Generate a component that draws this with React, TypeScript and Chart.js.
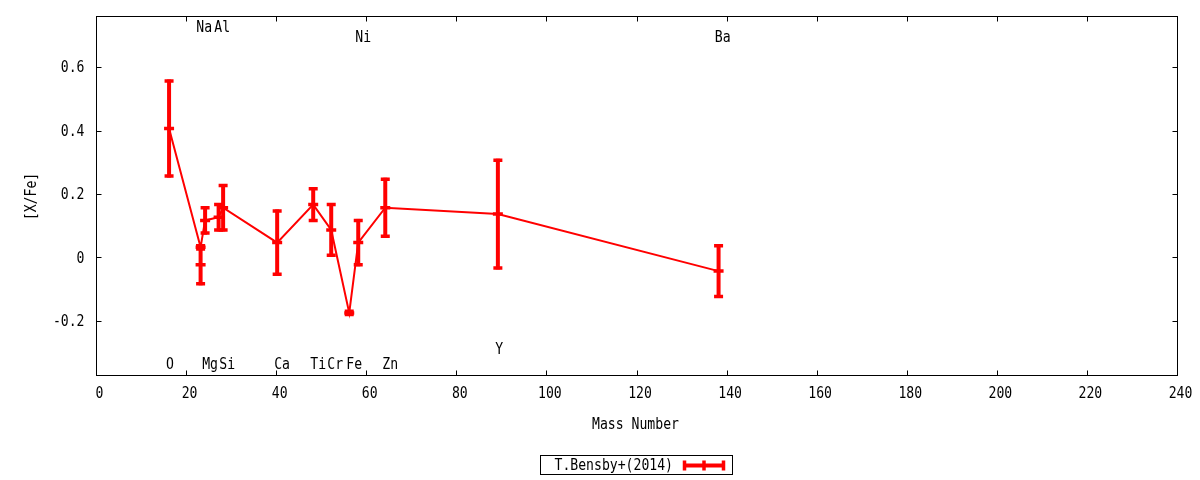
import React, { useEffect, useRef } from 'react';
import { Chart, registerables } from 'chart.js';

Chart.register(...registerables);

// ---- data ----
const massNumbers = [16, 23, 24, 27, 28, 40, 48, 52, 56, 58, 64, 89, 138];
const xFeValues = [0.41, 0.035, 0.12, 0.13, 0.16, 0.05, 0.17, 0.09, -0.172, 0.05, 0.16, 0.14, -0.04];
const xFeErrors = [0.15, 0.005, 0.04, 0.04, 0.07, 0.1, 0.05, 0.08, 0.005, 0.07, 0.09, 0.17, 0.08];

// second Na measurement (drawn as an error bar only, not joined by the line)
const naExtraMass = [23];
const naExtraValue = [-0.02];
const naExtraError = [0.06];

const elementLabels = ['O', 'Na', 'Al', 'Mg', 'Si', 'Ca', 'Ti', 'Cr', 'Fe', 'Zn', 'Ni', 'Y', 'Ba'];
const elementLabelX = [16.2, 23.8, 27.8, 25.1, 28.9, 41.1, 49.1, 52.9, 57.1, 65.1, 59.1, 89.3, 138.9];
const elementLabelY = [-0.335, 0.729, 0.729, -0.335, -0.335, -0.335, -0.335, -0.335, -0.335, -0.335, 0.697, -0.289, 0.697];

const xTicks = [0, 20, 40, 60, 80, 100, 120, 140, 160, 180, 200, 220, 240];
const yTicks = [-0.2, 0, 0.2, 0.4, 0.6];

const seriesLabel = 'T.Bensby+(2014)';
const xTitle = 'Mass Number';
const yTitle = '[X/Fe]';

const RED = '#ff0000';
const FONT = '16px "DejaVu Sans Mono"';
const SX = 0.82;

function drawText(
  ctx: CanvasRenderingContext2D,
  text: string,
  x: number,
  y: number,
  align: CanvasTextAlign,
  rotate = false
) {
  ctx.save();
  ctx.translate(x, y);
  if (rotate) ctx.rotate(-Math.PI / 2);
  ctx.scale(SX, 1);
  ctx.font = FONT;
  ctx.fillStyle = '#000';
  ctx.textAlign = align;
  ctx.textBaseline = 'middle';
  ctx.fillText(text, 0, 0);
  ctx.restore();
}

function fmt(v: number) {
  const r = Math.round(v * 10) / 10;
  return r === 0 ? '0' : String(r);
}

const errorsByDataset = [xFeErrors, naExtraError];

const decorPlugin = {
  id: 'decor',
  afterDatasetsDraw(chart: any) {
    const ctx: CanvasRenderingContext2D = chart.ctx;
    const ys = chart.scales.y;
    ctx.save();
    ctx.beginPath();
    ctx.rect(chart.chartArea.left, chart.chartArea.top, chart.chartArea.width, chart.chartArea.height);
    ctx.clip();
    ctx.strokeStyle = RED;
    chart.data.datasets.forEach((ds: any, di: number) => {
      const meta = chart.getDatasetMeta(di);
      const errs = errorsByDataset[di];
      meta.data.forEach((el: any, i: number) => {
        const v = ds.data[i].y;
        const e = errs[i];
        const px = el.x;
        const pTop = ys.getPixelForValue(v + e);
        const pBot = ys.getPixelForValue(v - e);
        const pMid = ys.getPixelForValue(v);
        ctx.lineCap = 'butt';
        ctx.lineWidth = 4;
        ctx.beginPath();
        ctx.moveTo(px, pTop - 1.5);
        ctx.lineTo(px, pBot + 1.5);
        ctx.stroke();
        ctx.lineWidth = 3.5;
        ctx.beginPath();
        ctx.moveTo(px - 4.5, pTop);
        ctx.lineTo(px + 4.5, pTop);
        ctx.moveTo(px - 4.5, pBot);
        ctx.lineTo(px + 4.5, pBot);
        ctx.moveTo(px - 5, pMid);
        ctx.lineTo(px + 5, pMid);
        ctx.stroke();
      });
    });
    ctx.restore();
  },
  afterDraw(chart: any) {
    const ctx: CanvasRenderingContext2D = chart.ctx;
    const { left, right, top, bottom } = chart.chartArea;
    const xs = chart.scales.x;
    const ys = chart.scales.y;
    ctx.save();
    // frame
    ctx.strokeStyle = '#000';
    ctx.lineWidth = 1;
    const L = Math.round(left) - 0.5;
    const R = Math.round(right) - 0.5;
    const T = Math.round(top) - 0.5;
    const B = Math.round(bottom) - 0.5;
    ctx.strokeRect(L, T, R - L, B - T);
    // inward ticks on all sides
    const tl = 5;
    ctx.beginPath();
    xTicks.forEach((v) => {
      const px = Math.round(xs.getPixelForValue(v)) - 0.5;
      ctx.moveTo(px, B);
      ctx.lineTo(px, B - tl);
      ctx.moveTo(px, T);
      ctx.lineTo(px, T + tl);
    });
    yTicks.forEach((v) => {
      const py = Math.round(ys.getPixelForValue(v)) - 0.5;
      ctx.moveTo(L, py);
      ctx.lineTo(L + tl, py);
      ctx.moveTo(R, py);
      ctx.lineTo(R - tl, py);
    });
    ctx.stroke();
    // tick labels
    xTicks.forEach((v) => {
      drawText(ctx, String(v), xs.getPixelForValue(v) + 2.5, 394, 'center');
    });
    yTicks.forEach((v) => {
      drawText(ctx, fmt(v), left - 12.5, ys.getPixelForValue(v), 'right');
    });
    // axis titles
    drawText(ctx, xTitle, (left + right) / 2 - 2, 424.5, 'center');
    drawText(ctx, yTitle, 31.5, (top + bottom) / 2, 'center', true);
    // element labels
    elementLabels.forEach((t, i) => {
      drawText(ctx, t, xs.getPixelForValue(elementLabelX[i]), ys.getPixelForValue(elementLabelY[i]), 'center');
    });
    // legend
    ctx.strokeStyle = '#000';
    ctx.lineWidth = 1;
    ctx.strokeRect(540.5, 455.5, 192, 19);
    drawText(ctx, seriesLabel, 673, 465.5, 'right');
    ctx.strokeStyle = RED;
    ctx.lineWidth = 4;
    ctx.beginPath();
    ctx.moveTo(683, 465.5);
    ctx.lineTo(725, 465.5);
    ctx.stroke();
    ctx.lineWidth = 3.5;
    ctx.beginPath();
    [684.5, 704, 723.5].forEach((x) => {
      ctx.moveTo(x, 460.5);
      ctx.lineTo(x, 470.5);
    });
    ctx.stroke();
    ctx.restore();
  },
};

export default function App() {
  const canvasRef = useRef<HTMLCanvasElement | null>(null);

  useEffect(() => {
    if (!canvasRef.current) return;
    const mainData = massNumbers.map((m, i) => ({ x: m, y: xFeValues[i] }));
    const extraData = naExtraMass.map((m, i) => ({ x: m, y: naExtraValue[i] }));
    const chart = new Chart(canvasRef.current, {
      type: 'scatter',
      data: {
        datasets: [
          {
            label: seriesLabel,
            data: mainData,
            showLine: true,
            borderColor: RED,
            backgroundColor: RED,
            borderWidth: 2,
            pointRadius: 0,
            pointHoverRadius: 0,
            tension: 0,
          },
          {
            label: 'Na (2)',
            data: extraData,
            showLine: false,
            borderColor: RED,
            backgroundColor: RED,
            pointRadius: 0,
            pointHoverRadius: 0,
          },
        ],
      },
      options: {
        animation: false,
        responsive: true,
        maintainAspectRatio: false,
        events: [],
        layout: { padding: { top: 17, right: 22, left: 0, bottom: 0 } },
        plugins: {
          legend: { display: false },
          tooltip: { enabled: false },
        },
        scales: {
          x: {
            type: 'linear',
            min: 0,
            max: 240,
            grid: { display: false, drawTicks: false },
            border: { display: false },
            ticks: { display: false },
            afterBuildTicks: (s: any) => {
              s.ticks = xTicks.map((v) => ({ value: v }));
            },
            afterFit: (s: any) => {
              s.height = 104;
            },
          },
          y: {
            type: 'linear',
            min: -0.371,
            max: 0.762,
            grid: { display: false, drawTicks: false },
            border: { display: false },
            ticks: { display: false },
            afterBuildTicks: (s: any) => {
              s.ticks = yTicks.map((v) => ({ value: v }));
            },
            afterFit: (s: any) => {
              s.width = 97;
            },
          },
        },
      },
      plugins: [decorPlugin],
    });
    return () => chart.destroy();
  }, []);

  return (
    <div style={{ position: 'absolute', left: 0, top: 0, width: 1200, height: 480, background: '#fff' }}>
      <canvas ref={canvasRef} />
    </div>
  );
}
